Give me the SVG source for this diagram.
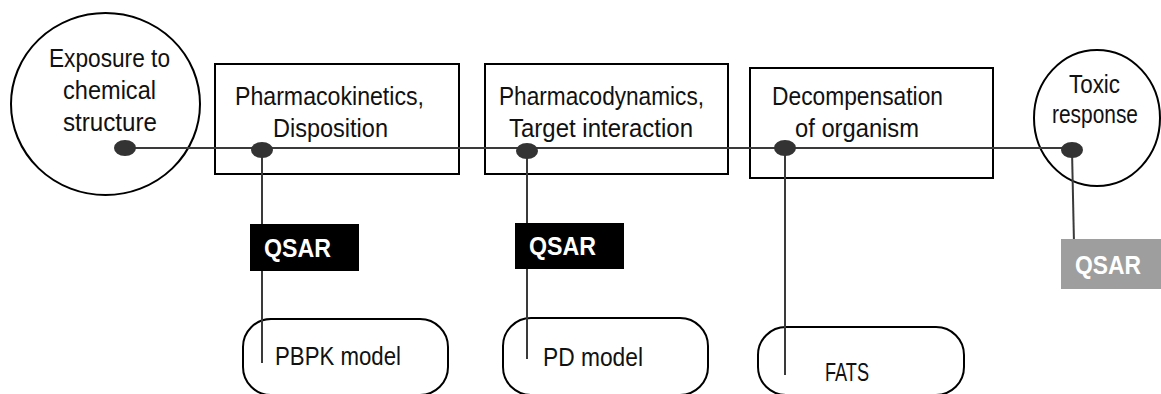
<svg xmlns="http://www.w3.org/2000/svg" width="1161" height="394" viewBox="0 0 1161 394">
<style>
.shape{fill:#fff;stroke:#000;stroke-width:2}
.lbl{font-family:"Liberation Sans",Arial,sans-serif;font-size:25px;fill:#111;text-anchor:middle}
.q{font-family:"Liberation Sans",Arial,sans-serif;font-size:25px;font-weight:bold;fill:#fff}
.conn{stroke:#3a3a3a;stroke-width:2;fill:none}
.dot{fill:#333}
</style>
<rect width="1161" height="394" fill="#fff"/>
<g id="n-exposure">
<ellipse class="shape" cx="105.5" cy="104" rx="94.5" ry="91"/>
<text class="lbl" x="109.5" y="67" textLength="121" lengthAdjust="spacingAndGlyphs">Exposure to</text>
<text class="lbl" x="109.5" y="99" textLength="93" lengthAdjust="spacingAndGlyphs">chemical</text>
<text class="lbl" x="110" y="131" textLength="94" lengthAdjust="spacingAndGlyphs">structure</text>
</g>
<g id="n-pk">
<rect class="shape" x="215" y="64" width="244" height="110"/>
<text class="lbl" x="329.5" y="105" textLength="189" lengthAdjust="spacingAndGlyphs">Pharmacokinetics,</text>
<text class="lbl" x="330.5" y="137" textLength="115" lengthAdjust="spacingAndGlyphs">Disposition</text>
</g>
<g id="n-pd">
<rect class="shape" x="485" y="64" width="243" height="110"/>
<text class="lbl" x="601.5" y="105" textLength="205" lengthAdjust="spacingAndGlyphs">Pharmacodynamics,</text>
<text class="lbl" x="601" y="137" textLength="184" lengthAdjust="spacingAndGlyphs">Target interaction</text>
</g>
<g id="n-decomp">
<rect class="shape" x="750" y="68" width="243" height="110"/>
<text class="lbl" x="857.5" y="105" textLength="171" lengthAdjust="spacingAndGlyphs">Decompensation</text>
<text class="lbl" x="857" y="137" textLength="124" lengthAdjust="spacingAndGlyphs">of organism</text>
</g>
<g id="n-toxic">
<ellipse class="shape" cx="1097" cy="118" rx="63" ry="68"/>
<text class="lbl" x="1094.5" y="93" textLength="51" lengthAdjust="spacingAndGlyphs">Toxic</text>
<text class="lbl" x="1095" y="123" textLength="86" lengthAdjust="spacingAndGlyphs">response</text>
</g>
<g id="n-pbpk">
<rect class="shape" x="243" y="319" width="205" height="76" rx="28" ry="28"/>
<text class="lbl" x="338" y="365" textLength="126" lengthAdjust="spacingAndGlyphs">PBPK model</text>
</g>
<g id="n-pdmodel">
<rect class="shape" x="503" y="318" width="205" height="77" rx="28" ry="28"/>
<text class="lbl" x="593" y="366" textLength="100" lengthAdjust="spacingAndGlyphs">PD model</text>
</g>
<g id="n-fats">
<rect class="shape" x="758" y="327" width="206" height="68" rx="28" ry="28"/>
<text class="lbl" x="847" y="381" textLength="44" lengthAdjust="spacingAndGlyphs">FATS</text>
</g>
<g id="connectors">
<line class="conn" x1="125" y1="148" x2="1072" y2="148"/>
<line class="conn" x1="262" y1="149" x2="262" y2="363"/>
<line class="conn" x1="527" y1="150" x2="527" y2="359"/>
<line class="conn" x1="785" y1="148" x2="785" y2="375"/>
<line class="conn" x1="1072" y1="150" x2="1074" y2="244"/>
<ellipse class="dot" cx="125" cy="148" rx="11" ry="8"/>
<ellipse class="dot" cx="262" cy="150" rx="11" ry="8"/>
<ellipse class="dot" cx="527" cy="151" rx="11" ry="8"/>
<ellipse class="dot" cx="785" cy="148" rx="11" ry="8"/>
<ellipse class="dot" cx="1072" cy="150" rx="11" ry="8"/>
</g>
<g id="n-qsar1">
<rect x="250" y="224" width="109" height="47" fill="#000"/>
<text class="q" x="264" y="257" textLength="67" lengthAdjust="spacingAndGlyphs">QSAR</text>
</g>
<g id="n-qsar2">
<rect x="515" y="223" width="109" height="46" fill="#000"/>
<text class="q" x="529" y="255" textLength="67" lengthAdjust="spacingAndGlyphs">QSAR</text>
</g>
<g id="n-qsar3">
<rect x="1061" y="239" width="100" height="50" fill="#9e9e9e"/>
<text class="q" x="1075" y="274" textLength="66" lengthAdjust="spacingAndGlyphs">QSAR</text>
</g>
</svg>
